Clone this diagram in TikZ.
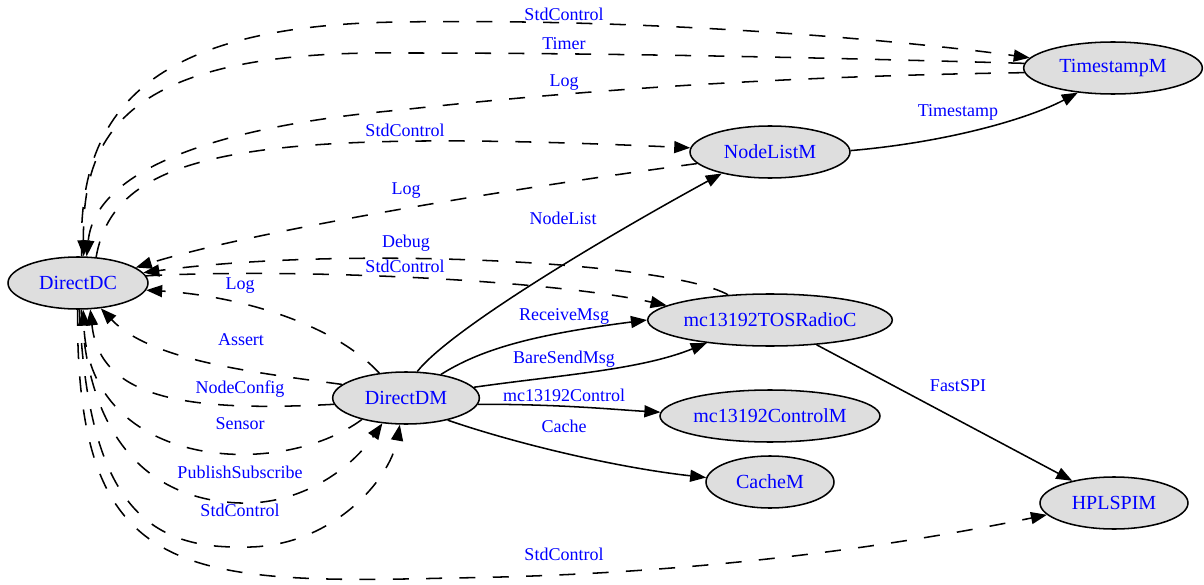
\documentclass[tikz,border=0pt]{standalone}
\usepackage{fontspec}
\setmainfont{Liberation Serif}
\usetikzlibrary{shapes.geometric,arrows.meta}
\definecolor{compfill}{RGB}{222,222,222}
\tikzset{every picture/.style={line width=1.15pt}}
\tikzset{
  comp/.style={ellipse, draw, fill=compfill, text=blue, inner sep=0pt, minimum height=39pt, font=\fontsize{15}{18}\selectfont},
  wire/.style={-{Triangle[length=12pt,width=9pt]}},
  dwire/.style={wire, dash pattern=on 12pt off 13pt},
  lbl/.style={text=blue, inner sep=0pt, font=\fontsize{13.5}{16}\selectfont}
}

\begin{document}
\begin{tikzpicture}[x=0.75pt,y=0.75pt,yscale=-1,xscale=1]
			\useasboundingbox (0,0) rectangle (1204,585);
			%Shape: Ellipse [id:DirectDC]
			\node[comp, minimum width=105pt] (dc) at (78,283) {DirectDC};
			%Shape: Ellipse [id:DirectDM]
			\node[comp, minimum width=110pt] (dm) at (406,398) {DirectDM};
			%Shape: Ellipse [id:NodeListM]
			\node[comp, minimum width=120pt] (nodelist) at (770,152) {NodeListM};
			%Shape: Ellipse [id:TimestampM]
			\node[comp, minimum width=134pt] (timestamp) at (1113,68) {TimestampM};
			%Shape: Ellipse [id:mc13192TOSRadioC]
			\node[comp, minimum width=180pt] (radio) at (770,320) {mc13192TOSRadioC};
			%Shape: Ellipse [id:mc13192ControlM]
			\node[comp, minimum width=165pt] (control) at (770,416) {mc13192ControlM};
			%Shape: Ellipse [id:CacheM]
			\node[comp, minimum width=96pt] (cache) at (770,482) {CacheM};
			%Shape: Ellipse [id:HPLSPIM]
			\node[comp, minimum width=111pt] (hplspi) at (1114,503) {HPLSPIM};

			%Curve Lines [dashed, DirectDC wiring]
			\draw[dwire] (dc.82) .. controls (76,110) and (150,25) .. (400,22) .. controls (650,18) and (900,40) .. (timestamp.173);
			\draw[dwire] (timestamp.177) .. controls (800,57) and (600,53) .. (400,53) .. controls (130,50) and (82,130) .. (dc.78);
			\draw[dwire] (timestamp.183) .. controls (800,76) and (600,88) .. (400,110) .. controls (200,128) and (95,175) .. (dc.72);
			\draw[dwire] (dc.55) .. controls (115,150) and (250,128) .. (nodelist.177);
			\draw[dwire] (nodelist.189) .. controls (500,190) and (250,232) .. (dc.15);
			\draw[dwire] (radio.149) .. controls (670,262) and (350,245) .. (dc.9);
			\draw[dwire] (dc.6) .. controls (300,268) and (550,280) .. (radio.172);
			\draw[dwire] (dm.137) .. controls (330,320) and (230,295) .. (dc.354);
			\draw[dwire] (dm.168) .. controls (250,372) and (150,360) .. (dc.312);
			\draw[dwire] (dm.185) .. controls (190,412) and (100,400) .. (dc.295);
			\draw[dwire] (dm.206) .. controls (280,480) and (90,470) .. (dc.281);
			\draw[dwire] (dc.277) .. controls (88,440) and (150,500) .. (240,503) .. controls (300,505) and (350,470) .. (dm.227);
			\draw[dwire] (dc.273) .. controls (88,500) and (145,548) .. (240,547) .. controls (330,550) and (390,480) .. (dm.257);
			\draw[dwire] (dc.269) .. controls (76,575) and (175,585) .. (450,578) .. controls (700,575) and (900,545) .. (hplspi.190);

			%Curve Lines [solid, uses]
			\draw[wire] (dm.67) .. controls (450,330) and (600,240) .. (nodelist.204);
			\draw[wire] (nodelist.1) .. controls (950,142) and (1030,118) .. (timestamp.215);
			\draw[wire] (dm.34) .. controls (480,350) and (530,335) .. (radio.180);
			\draw[wire] (dm.9) .. controls (560,375) and (640,370) .. (radio.200);
			\draw[wire] (dm.355) .. controls (560,404) and (620,410) .. (control.178);
			\draw[wire] (dm.332) .. controls (520,445) and (620,468) .. (cache.176);
			%Straight Lines
			\draw[wire] (radio) -- (hplspi);

			% Text Node
			\node[lbl] (lStdTs) at (564,14) {StdControl};
			\node[lbl] (lTimer) at (564,44) {Timer};
			\node[lbl] (lLogTs) at (564,83) {Log};
			\node[lbl] (lStdNl) at (405,130) {StdControl};
			\node[lbl] (lLogNl) at (406,191) {Log};
			\node[lbl] (lNodeList) at (563,218) {NodeList};
			\node[lbl] (lDebug) at (406,243) {Debug};
			\node[lbl] (lStdRadio) at (405,266) {StdControl};
			\node[lbl] (lLogDm) at (240,286) {Log};
			\node[lbl] (lAssert) at (241,340) {Assert};
			\node[lbl] (lNodeConfig) at (240,389) {NodeConfig};
			\node[lbl] (lSensor) at (240,424) {Sensor};
			\node[lbl] (lPubSub) at (240,472) {PublishSubscribe};
			\node[lbl] (lStdDm) at (240,510) {StdControl};
			\node[lbl] (lStdSpi) at (564,554) {StdControl};
			\node[lbl] (lTimestamp) at (958,112) {Timestamp};
			\node[lbl] (lReceive) at (564,316) {ReceiveMsg};
			\node[lbl] (lBareSend) at (564,359) {BareSendMsg};
			\node[lbl] (lControl) at (564,395) {mc13192Control};
			\node[lbl] (lCache) at (564,426) {Cache};
			\node[lbl] (lFastSpi) at (958,386) {FastSPI};

		\end{tikzpicture}
\end{document}
